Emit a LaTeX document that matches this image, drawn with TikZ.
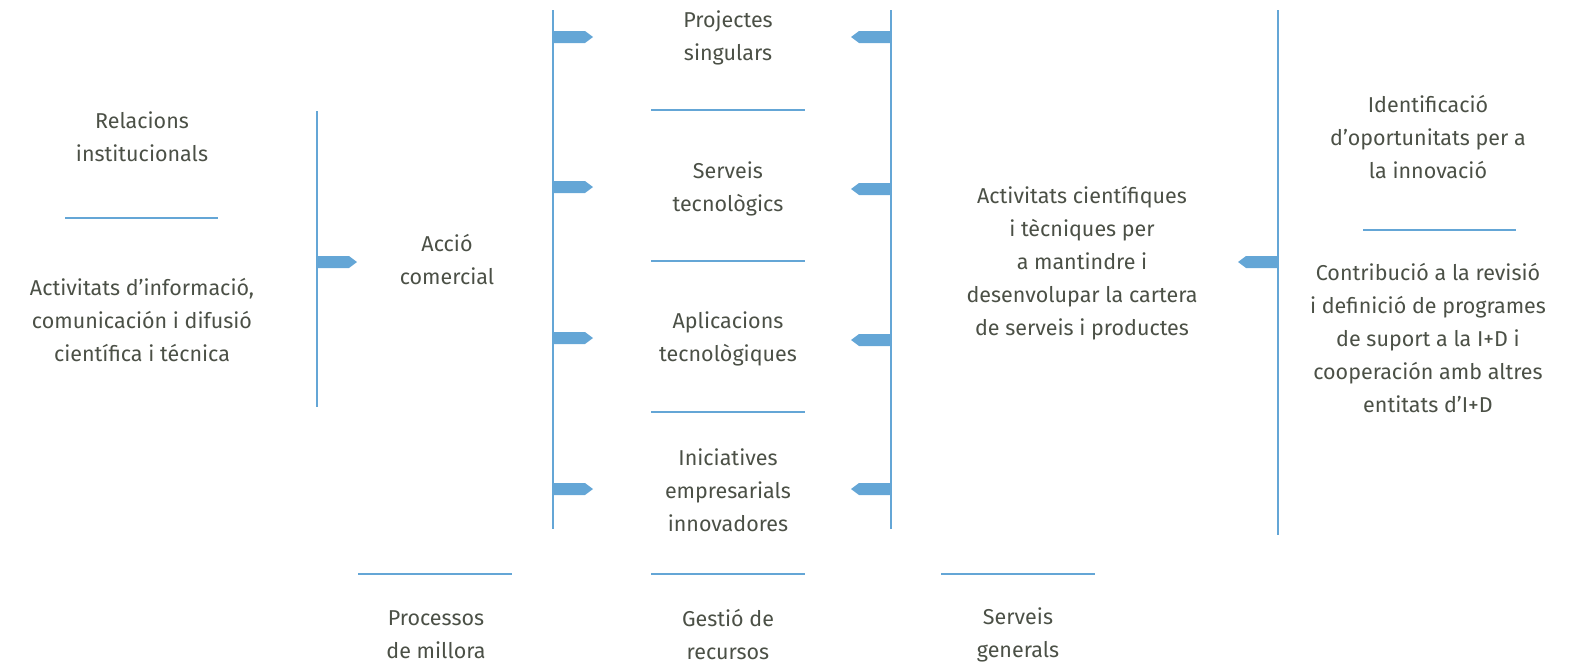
\documentclass[tikz,border=0pt]{standalone}
\usepackage{fontspec}
\setmainfont{Fira Sans}
\definecolor{lineblue}{HTML}{64A6D6}
\definecolor{txtgray}{HTML}{4B5046}
\tikzset{
  vline/.style={draw=lineblue, line width=2.6pt},
  sep/.style={draw=lineblue, line width=2pt},
  lbl/.style={text=txtgray, align=center, font=\fontsize{21.5}{33}\selectfont, inner sep=0pt},
  flagr/.pic={\fill[lineblue] (0,-6) -- (32,-6) -- (40,0) -- (32,6) -- (0,6) -- cycle;},
  flagl/.pic={\fill[lineblue] (0,-6) -- (-32,-6) -- (-40,0) -- (-32,6) -- (0,6) -- cycle;}
}
\begin{document}
\begin{tikzpicture}[x=1pt,y=-1pt]
  \useasboundingbox (0,0) rectangle (1576,665);
  % vertical bars
  \coordinate (va1) at (317,111);  \coordinate (va2) at (317,407);
  \coordinate (vb1) at (553,10);   \coordinate (vb2) at (553,529);
  \coordinate (vc1) at (891,10);   \coordinate (vc2) at (891,529);
  \coordinate (vd1) at (1278,10);  \coordinate (vd2) at (1278,535);
  \draw[vline] (va1) -- (va2);
  \draw[vline] (vb1) -- (vb2);
  \draw[vline] (vc1) -- (vc2);
  \draw[vline] (vd1) -- (vd2);
  % flags
  \pic at (317,262) {flagr};
  \pic at (553,37) {flagr};
  \pic at (553,187) {flagr};
  \pic at (553,338) {flagr};
  \pic at (553,489) {flagr};
  \pic at (891,37) {flagl};
  \pic at (891,189) {flagl};
  \pic at (891,340) {flagl};
  \pic at (891,489) {flagl};
  \pic at (1278,262) {flagl};
  % separators
  \coordinate (sa1) at (65,218);   \coordinate (sa2) at (218,218);
  \coordinate (sb1) at (651,110);  \coordinate (sb2) at (805,110);
  \coordinate (sc1) at (651,261);  \coordinate (sc2) at (805,261);
  \coordinate (sd1) at (651,412);  \coordinate (sd2) at (805,412);
  \coordinate (se1) at (651,574);  \coordinate (se2) at (805,574);
  \coordinate (sf1) at (358,574);  \coordinate (sf2) at (512,574);
  \coordinate (sg1) at (941,574);  \coordinate (sg2) at (1095,574);
  \coordinate (sh1) at (1363,230); \coordinate (sh2) at (1516,230);
  \foreach \s in {sa,sb,sc,sd,se,sf,sg,sh}
    \draw[sep] (\s1) -- (\s2);
  % labels
  \node[lbl] (rel) at (142,137) {Relacions\\institucionals};
  \node[lbl] (inf) at (142,320) {Activitats d’informació,\\comunicación i difusió\\científica i técnica};
  \node[lbl] (acc) at (447,260) {Acció\\comercial};
  \node[lbl] (pro) at (728,38) {Projectes\\singulars};
  \node[lbl] (ser) at (728,189) {Serveis\\tecnològics};
  \node[lbl] (apl) at (728,339) {Aplicacions\\tecnològiques};
  \node[lbl] (ini) at (728,490) {Iniciatives\\empresarials\\innovadores};
  \node[lbl] (act) at (1082,263) {Activitats científiques\\i tècniques per\\a mantindre i\\desenvolupar la cartera\\de serveis i productes};
  \node[lbl] (ide) at (1428,137) {Identificació\\d’oportunitats per a\\la innovació};
  \node[lbl] (con) at (1428,338) {Contribució a la revisió\\i definició de programes\\de suport a la I+D i\\cooperación amb altres\\entitats d’I+D};
  \node[lbl] (mil) at (436,635) {Processos\\de millora};
  \node[lbl] (rec) at (728,635) {Gestió de\\recursos};
  \node[lbl] (gen) at (1018,635) {Serveis\\generals};
\end{tikzpicture}
\end{document}
